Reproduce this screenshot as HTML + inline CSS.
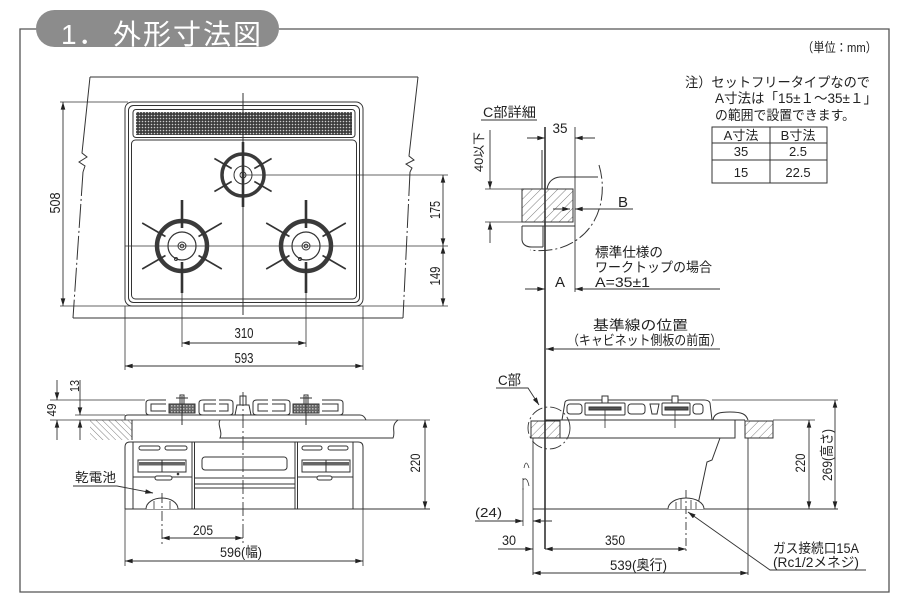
<!DOCTYPE html>
<html><head><meta charset="utf-8">
<style>
html,body{margin:0;padding:0;background:#fff;}
svg{display:block}
text{font-family:"Liberation Sans","Noto Sans CJK JP",sans-serif;fill:#222;}
</style></head>
<body>
<svg width="900" height="600" viewBox="0 0 900 600" xmlns="http://www.w3.org/2000/svg">
<defs>
<marker id="a" viewBox="0 0 10 6" refX="10" refY="3" markerWidth="8" markerHeight="4.6" markerUnits="userSpaceOnUse" orient="auto-start-reverse"><path d="M0,0L10,3L0,6z" fill="#222"/></marker>
<pattern id="h1" width="6" height="6" patternUnits="userSpaceOnUse" patternTransform="rotate(45)"><line x1="0" y1="0" x2="0" y2="6" stroke="#444" stroke-width="0.7"/></pattern>
<pattern id="h2" width="4.5" height="4.5" patternUnits="userSpaceOnUse" patternTransform="rotate(-45)"><line x1="0" y1="0" x2="0" y2="4.5" stroke="#444" stroke-width="0.7"/></pattern>
<pattern id="pf" width="3" height="3" patternUnits="userSpaceOnUse"><rect width="3" height="3" fill="#3c3c3c"/><circle cx="1.5" cy="1.5" r="0.8" fill="#cfcfcf"/></pattern>
<pattern id="dk" width="3" height="3" patternUnits="userSpaceOnUse"><rect width="3" height="3" fill="#666"/><rect width="1.5" height="1.5" fill="#bbb"/></pattern>
</defs>

<!-- frame & header -->
<path d="M37,29H20V592H889V29H279" fill="none" stroke="#555" stroke-width="1.3"/>
<rect x="36" y="10" width="243" height="37" rx="18.5" fill="#8c8c8c"/>
<text y="44" font-size="28" x="61" style="fill:#fff">1</text>
<text y="44" font-size="28" x="78" style="fill:#fff">．</text>
<text y="44" font-size="28" x="113 143 173 203 233" style="fill:#fff">外形寸法図</text>

<text x="802" y="52" font-size="13" textLength="75" lengthAdjust="spacingAndGlyphs">（単位：mm）</text>

<!-- ===== TOP VIEW ===== -->
<g stroke="#333" stroke-width="1" fill="none">
<path d="M90,77H418"/>
<path d="M73,318H403"/>
<path d="M90,77L82,153L87,157L79,162L85,166L83,172"/>
<path d="M83,172L73,318" stroke-dasharray="24,3,2,3"/>
<path d="M418,77L409,156L414,160L406,164L412,168L410,172"/>
<path d="M410,172L403,318" stroke-dasharray="24,3,2,3"/>

<rect x="125" y="102" width="238" height="204" rx="7"/>
<rect x="128.5" y="105.5" width="231" height="197" rx="5"/>
<rect x="133" y="109.5" width="222" height="28" rx="3"/>
<rect x="136" y="112" width="216" height="23" fill="url(#pf)" stroke="none"/>
<rect x="131.5" y="140" width="225" height="159" rx="4"/>

<line x1="243" y1="93" x2="243" y2="315"/>
<line x1="125" y1="246" x2="448" y2="246" stroke-width="0.8"/>
<line x1="243" y1="175" x2="448" y2="175" stroke-width="0.8"/>
<line x1="60" y1="306" x2="448" y2="306" stroke-width="0.8"/>
<line x1="60" y1="102" x2="128" y2="102" stroke-width="0.8"/>

<circle cx="243" cy="175" r="21" stroke-width="3.5" stroke="#3a3a3a"/>
<circle cx="243" cy="175" r="9"/>
<circle cx="243" cy="175" r="3"/>
<path d="M231.7,168.5L214.4,158.5M254.3,168.5L271.6,158.5M231.7,181.5L214.4,191.5M254.3,181.5L271.6,191.5" stroke-width="1.6"/>
<line x1="243" y1="142" x2="243" y2="207" stroke-width="2.6"/>

<circle cx="182" cy="246" r="25" stroke-width="4.5" stroke="#3a3a3a"/>
<circle cx="182" cy="246" r="14" stroke-width="1.2"/>
<circle cx="182" cy="246" r="4"/>
<circle cx="182" cy="246" r="1.8"/>
<path d="M165.5,236.5L142.2,223M198.5,236.5L221.8,223M165.5,255.5L142.2,269M198.5,255.5L221.8,269" stroke-width="1.6"/>
<path d="M182,200V228M182,262V293" stroke-width="2.6"/>
<circle cx="176" cy="259" r="1.5"/>

<circle cx="306" cy="246" r="25" stroke-width="4.5" stroke="#3a3a3a"/>
<circle cx="306" cy="246" r="14" stroke-width="1.2"/>
<circle cx="306" cy="246" r="4"/>
<circle cx="306" cy="246" r="1.8"/>
<path d="M289.5,236.5L266.2,223M322.5,236.5L345.8,223M289.5,255.5L266.2,269M322.5,255.5L345.8,269" stroke-width="1.6"/>
<path d="M306,200V228M306,262V293" stroke-width="2.6"/>
<circle cx="300" cy="259" r="1.5"/>

<line x1="63" y1="102" x2="63" y2="306" stroke-width="0.9" marker-start="url(#a)" marker-end="url(#a)"/>
<line x1="443" y1="175" x2="443" y2="246" stroke-width="0.9" marker-start="url(#a)" marker-end="url(#a)"/>
<line x1="443" y1="246" x2="443" y2="306" stroke-width="0.9" marker-start="url(#a)" marker-end="url(#a)"/>
<path d="M182,293V347M306,293V347M125,306V370M363,306V370" stroke-width="0.8"/>
<line x1="182" y1="343" x2="306" y2="343" stroke-width="0.9" marker-start="url(#a)" marker-end="url(#a)"/>
<line x1="125" y1="366" x2="363" y2="366" stroke-width="0.9" marker-start="url(#a)" marker-end="url(#a)"/>
</g>
<text transform="translate(55,203) rotate(-90)" text-anchor="middle" dy="5" font-size="15" textLength="21" lengthAdjust="spacingAndGlyphs">508</text>
<text transform="translate(435,210) rotate(-90)" text-anchor="middle" dy="5" font-size="15" textLength="18" lengthAdjust="spacingAndGlyphs">175</text>
<text transform="translate(435,276) rotate(-90)" text-anchor="middle" dy="5" font-size="15" textLength="19" lengthAdjust="spacingAndGlyphs">149</text>
<text x="244" y="338" text-anchor="middle" font-size="15" textLength="19" lengthAdjust="spacingAndGlyphs">310</text>
<text x="244" y="363" text-anchor="middle" font-size="15" textLength="19" lengthAdjust="spacingAndGlyphs">593</text>

<!-- ===== NOTE & TABLE ===== -->
<text x="685" y="87" font-size="13.5" textLength="185" lengthAdjust="spacingAndGlyphs">注）セットフリータイプなので</text>
<text x="715" y="103" font-size="13.5" textLength="162" lengthAdjust="spacingAndGlyphs">A寸法は「15±１～35±１」</text>
<text x="715" y="120" font-size="13.5" textLength="140" lengthAdjust="spacingAndGlyphs">の範囲で設置できます。</text>
<g stroke="#333" stroke-width="1" fill="none">
<rect x="712" y="127" width="115" height="56"/>
<path d="M770,127V183M712,143H827M712,160H827"/>
</g>
<text x="741" y="140" text-anchor="middle" font-size="13">A寸法</text>
<text x="798" y="140" text-anchor="middle" font-size="13">B寸法</text>
<text x="741" y="156" text-anchor="middle" font-size="13">35</text>
<text x="798" y="156" text-anchor="middle" font-size="13">2.5</text>
<text x="741" y="177" text-anchor="middle" font-size="13">15</text>
<text x="798" y="177" text-anchor="middle" font-size="13">22.5</text>

<!-- ===== C DETAIL ===== -->
<text x="483" y="117" font-size="13.5" textLength="53" lengthAdjust="spacingAndGlyphs">C部詳細</text>
<g stroke="#333" stroke-width="1" fill="none">
<line x1="481" y1="120" x2="537" y2="120"/>
<line x1="545" y1="127" x2="545" y2="549" stroke-width="1.6"/>
<line x1="575" y1="127" x2="575" y2="292" stroke-width="0.9"/>
<line x1="527" y1="138" x2="545" y2="138" stroke-width="0.9" marker-end="url(#a)"/>
<line x1="595" y1="138" x2="575" y2="138" stroke-width="0.9" marker-end="url(#a)"/>
<path d="M485,189H522M485,222H522" stroke-width="0.8"/>
<line x1="490" y1="130" x2="490" y2="189" stroke-width="0.9" marker-end="url(#a)"/>
<line x1="490" y1="243" x2="490" y2="222" stroke-width="0.9" marker-end="url(#a)"/>
<rect x="522" y="189" width="51" height="33" fill="url(#h1)"/>
<path d="M547,189Q549,178 560,177H598"/>
<path d="M542,150V189"/>
<path d="M522,226H575M522,226V240Q523,247 532,247H543M543,226V247"/>
<path d="M599,165C608,195 600,235 560,248Q545,252 530,250" stroke-dasharray="14,3,2,3"/>
<line x1="553" y1="209" x2="570" y2="209" stroke-width="0.9" marker-end="url(#a)"/>
<line x1="633" y1="209" x2="575" y2="209" stroke-width="0.9" marker-end="url(#a)"/>
<line x1="525" y1="289" x2="545" y2="289" stroke-width="0.9" marker-end="url(#a)"/>
<line x1="720" y1="289" x2="575" y2="289" stroke-width="0.9" marker-end="url(#a)"/>
<line x1="720" y1="349" x2="546" y2="349" stroke-width="0.9" marker-end="url(#a)"/>
</g>
<text x="560" y="133" text-anchor="middle" font-size="14" textLength="15" lengthAdjust="spacingAndGlyphs">35</text>
<text transform="translate(479,152) rotate(-90)" text-anchor="middle" dy="4" font-size="12" textLength="40" lengthAdjust="spacingAndGlyphs">40以下</text>
<text x="618" y="207" font-size="15">B</text>
<text x="560" y="287" text-anchor="middle" font-size="15">A</text>
<text x="595" y="257" font-size="13.5" textLength="68" lengthAdjust="spacingAndGlyphs">標準仕様の</text>
<text x="595" y="272" font-size="13.5" textLength="117" lengthAdjust="spacingAndGlyphs">ワークトップの場合</text>
<text x="595" y="287" font-size="13.5" textLength="55" lengthAdjust="spacingAndGlyphs">A=35±1</text>
<text x="593" y="330" font-size="13.5" textLength="95" lengthAdjust="spacingAndGlyphs">基準線の位置</text>
<text x="567" y="345" font-size="13.5" textLength="155" lengthAdjust="spacingAndGlyphs">（キャビネット側板の前面）</text>

<!-- ===== FRONT VIEW ===== -->
<g stroke="#333" stroke-width="1" fill="none">
<path d="M50,400H145M75,415H125M50,420H430" stroke-width="0.8"/>
<line x1="80" y1="380" x2="80" y2="415" stroke-width="0.9" marker-end="url(#a)"/>
<line x1="80" y1="440" x2="80" y2="420" stroke-width="0.9" marker-end="url(#a)"/>
<line x1="57" y1="380" x2="57" y2="400" stroke-width="0.9" marker-end="url(#a)"/>
<line x1="57" y1="440" x2="57" y2="420" stroke-width="0.9" marker-end="url(#a)"/>
<rect x="90" y="420" width="42" height="20" fill="url(#h2)" stroke="none"/>
<path d="M132,420V440"/>
<path d="M220,420C217,425 223,432 220,438H393C396,432 390,426 398,420"/>
<path d="M125,420V417Q125,415 128,415H360Q364,415 366,420"/>
<path d="M166,400H150Q146,400 146,403V412Q146,415 150,415H166M166,404H151V411H166"/>
<path d="M216,400H203Q199,400 199,403V412Q199,415 203,415H216M216,404H204V411H216"/>
<path d="M219,400H229Q233,400 233,403V412Q233,415 229,415H219M219,404H228V411H219"/>
<path d="M268,400H257Q253,400 253,403V412Q253,415 257,415H268M268,404H258V411H268"/>
<path d="M272,400H286Q290,400 290,403V412Q290,415 286,415H272M272,404H285V411H272"/>
<path d="M322,400H339Q343,400 343,403V412Q343,415 339,415H322M322,404H338V411H322"/>
<rect x="169" y="404" width="26" height="9" fill="url(#dk)"/>
<rect x="180" y="395" width="4" height="9" fill="#fff"/>
<path d="M176,398H188"/>
<rect x="293" y="404" width="26" height="9" fill="url(#dk)"/>
<rect x="304" y="395" width="4" height="9" fill="#fff"/>
<path d="M300,398H312"/>
<path d="M235,415L237,405H249L251,415"/>
<rect x="240" y="396" width="6" height="9" fill="#fff"/>
<path d="M182,396V425M306,396V425"/>
<line x1="243" y1="392" x2="243" y2="545" stroke-dasharray="14,3,2,3" stroke-width="0.9"/>
<path d="M125,509V447Q125,442 130,442H358Q363,442 363,447V509"/>
<path d="M133,442V509M192,442V509M194.5,442V509M295,442V509M297.5,442V509M353,442V509"/>
<rect x="202" y="457" width="85" height="13" rx="3"/>
<path d="M194.5,478H295M194.5,484H295M194.5,488H295M133,477H192M297.5,477H353"/>
<rect x="139" y="446" width="21" height="4" rx="2"/>
<rect x="165" y="446" width="22" height="4" rx="2"/>
<rect x="138" y="460" width="48" height="12" fill="#fff"/>
<rect x="139" y="462" width="46" height="3.5" fill="#666" stroke="none"/>
<path d="M162,460V472"/>
<rect x="155" y="476" width="17" height="4" rx="2" fill="#fff"/>
<circle cx="178" cy="474" r="0.8" fill="#333"/>
<rect x="302" y="446" width="20" height="4" rx="2"/>
<rect x="328" y="446" width="20" height="4" rx="2"/>
<rect x="302" y="460" width="48" height="12" fill="#fff"/>
<rect x="303" y="462" width="46" height="3.5" fill="#666" stroke="none"/>
<path d="M326,460V472"/>
<rect x="317" y="476" width="15" height="4" rx="2" fill="#fff"/>
<path d="M125,509H430"/>
<path d="M146,509A16,11 0 0 1 178,509" fill="#fff"/>
<path d="M154,501V509M170,501V509" stroke-width="0.8"/>
<line x1="162" y1="493" x2="162" y2="545" stroke-dasharray="10,3,2,3" stroke-width="0.9"/>
<line x1="425" y1="420" x2="425" y2="509" stroke-width="0.9" marker-start="url(#a)" marker-end="url(#a)"/>
<path d="M73,486H117L153,493" stroke-width="0.9" marker-end="url(#a)"/>
<line x1="162" y1="538" x2="243" y2="538" stroke-width="0.9" marker-start="url(#a)" marker-end="url(#a)"/>
<path d="M125,509V566M363,509V566" stroke-width="0.8"/>
<line x1="125" y1="561" x2="363" y2="561" stroke-width="0.9" marker-start="url(#a)" marker-end="url(#a)"/>
</g>
<text transform="translate(74,386) rotate(-90)" text-anchor="middle" dy="5" font-size="13" textLength="12" lengthAdjust="spacingAndGlyphs">13</text>
<text transform="translate(51,410) rotate(-90)" text-anchor="middle" dy="5" font-size="13" textLength="13" lengthAdjust="spacingAndGlyphs">49</text>
<text transform="translate(415,463) rotate(-90)" text-anchor="middle" dy="5" font-size="14" textLength="19" lengthAdjust="spacingAndGlyphs">220</text>
<text x="75" y="482" font-size="13" textLength="41" lengthAdjust="spacingAndGlyphs">乾電池</text>
<text x="203" y="535" text-anchor="middle" font-size="14" textLength="20" lengthAdjust="spacingAndGlyphs">205</text>
<text x="241" y="557" text-anchor="middle" font-size="14" textLength="42" lengthAdjust="spacingAndGlyphs">596(幅)</text>

<!-- ===== SIDE VIEW ===== -->
<g stroke="#333" stroke-width="1" fill="none">
<path d="M496,388H528L539,405" stroke-width="0.9" marker-end="url(#a)"/>
<circle cx="549" cy="428" r="21" stroke-dasharray="12,3,2,3" stroke-width="0.9"/>
<rect x="531" y="421" width="29" height="17" fill="url(#h1)"/>
<rect x="745" y="421" width="28" height="17" fill="url(#h1)"/>
<path d="M545,420H745M545,438H735V420"/>
<path d="M713,420C714,413 720,412 730,412C742,412 746,414 748,420"/>
<path d="M562,420L565,402Q566,400 570,400H704Q709,400 710,403L712,420"/>
<rect x="567" y="404" width="15" height="10" rx="3"/>
<rect x="585" y="403" width="40" height="12" rx="1"/>
<rect x="589" y="407" width="32" height="3" fill="#555"/>
<rect x="628" y="404" width="17" height="10" rx="3"/>
<path d="M650,404H659L657,414H652Z"/>
<rect x="662" y="403" width="28" height="12" rx="1"/>
<rect x="665" y="407" width="23" height="3" fill="#555"/>
<rect x="693" y="404" width="10" height="10" rx="3"/>
<rect x="602" y="396" width="6" height="7" fill="#fff"/>
<rect x="672" y="396" width="6" height="7" fill="#fff"/>
<path d="M605,410V428M675,410V428" stroke-width="0.8"/>
<path d="M720,438L712,460L707,462L697,509"/>
<path d="M533,438V575M748,438V575" stroke-width="0.9"/>
<path d="M533,509H838"/>
<path d="M524,468Q526,458 529,468M523,478V490M523,480Q527,476 529,486" stroke-width="0.8"/>
<path d="M523,488V526" stroke-width="0.8"/>
<path d="M668,509A18,11 0 0 1 704,509" fill="#fff"/>
<path d="M676,502V509M681,499V509M691,500V509M696,502V509" stroke-width="0.8"/>
<line x1="686" y1="490" x2="686" y2="553" stroke-dasharray="8,3,2,3" stroke-width="0.9"/>
<path d="M866,570H770L688,512" stroke-width="0.9" marker-end="url(#a)"/>
<path d="M712,400H838M773,420H815" stroke-width="0.8"/>
<line x1="835" y1="400" x2="835" y2="509" stroke-width="0.9" marker-start="url(#a)" marker-end="url(#a)"/>
<line x1="809" y1="420" x2="809" y2="509" stroke-width="0.9" marker-start="url(#a)" marker-end="url(#a)"/>
<line x1="475" y1="521" x2="523" y2="521" stroke-width="0.9" marker-end="url(#a)"/>
<line x1="552" y1="521" x2="533" y2="521" stroke-width="0.9" marker-end="url(#a)"/>
<line x1="498" y1="549" x2="533" y2="549" stroke-width="0.9" marker-end="url(#a)"/>
<line x1="545" y1="549" x2="686" y2="549" stroke-width="0.9" marker-start="url(#a)" marker-end="url(#a)"/>
<line x1="533" y1="573" x2="748" y2="573" stroke-width="0.9" marker-start="url(#a)" marker-end="url(#a)"/>
</g>
<text x="498" y="385" font-size="14" textLength="23" lengthAdjust="spacingAndGlyphs">C部</text>
<text transform="translate(800,463) rotate(-90)" text-anchor="middle" dy="5" font-size="14" textLength="19" lengthAdjust="spacingAndGlyphs">220</text>
<text transform="translate(827,455) rotate(-90)" text-anchor="middle" dy="5" font-size="14" textLength="52" lengthAdjust="spacingAndGlyphs">269(高さ)</text>
<text x="475" y="517" font-size="13" textLength="27" lengthAdjust="spacingAndGlyphs">(24)</text>
<text x="502" y="545" font-size="14" textLength="14" lengthAdjust="spacingAndGlyphs">30</text>
<text x="605" y="545" font-size="14" textLength="20" lengthAdjust="spacingAndGlyphs">350</text>
<text x="610" y="570" font-size="14" textLength="57" lengthAdjust="spacingAndGlyphs">539(奥行)</text>
<text x="773" y="553" font-size="13.5" textLength="86" lengthAdjust="spacingAndGlyphs">ガス接続口15A</text>
<text x="773" y="567" font-size="13.5" textLength="86" lengthAdjust="spacingAndGlyphs">(Rc1/2メネジ)</text>
</svg>
</body></html>
